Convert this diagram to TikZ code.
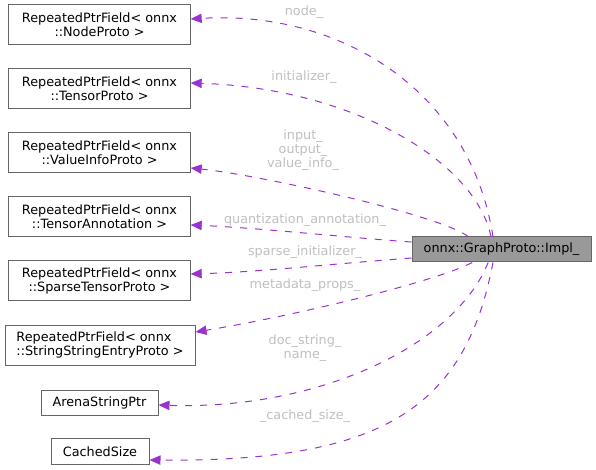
\documentclass[tikz,border=0pt]{standalone}
\usepackage{fontspec}
\setmainfont{DejaVu Sans}
\usepackage{tikz}
\usetikzlibrary{arrows.meta}
\definecolor{edgepurple}{HTML}{9A32CD}
\definecolor{labelgray}{HTML}{BFBFBF}
\definecolor{boxgray}{HTML}{666666}
\definecolor{implgray}{HTML}{999999}

\begin{document}
\begin{tikzpicture}[
        x=0.75pt, y=-0.75pt,
        font=\fontsize{9.6}{10.5}\selectfont,
        box/.style={draw=boxgray, line width=0.75pt, fill=white, align=center, inner sep=0pt, minimum width=136pt, minimum height=30pt},
        smallbox/.style={box, minimum height=18.75pt},
        implbox/.style={box, fill=implgray, minimum width=134.25pt, minimum height=18.75pt},
        lbl/.style={text=labelgray, align=center, inner sep=0pt},
        edge/.style={-{Triangle[length=8.25pt,width=7pt]}, draw=edgepurple, line width=0.75pt, dash pattern=on 5.25pt off 6pt}
    ]
        \useasboundingbox (0,0) rectangle (596,470);
        % target classes on the left
        \node[box] (nodeproto) at (99.5,25) {RepeatedPtrField< onnx\\::NodeProto >};
        \node[box] (tensorproto) at (99.5,89) {RepeatedPtrField< onnx\\::TensorProto >};
        \node[box] (valueinfo) at (99.5,153) {RepeatedPtrField< onnx\\::ValueInfoProto >};
        \node[box] (tensorannot) at (99.5,217) {RepeatedPtrField< onnx\\::TensorAnnotation >};
        \node[box] (sparsetensor) at (99.5,281) {RepeatedPtrField< onnx\\::SparseTensorProto >};
        \node[box, align=left, minimum width=142.5pt] (stringentry) at (100,345) {RepeatedPtrField< onnx\\::StringStringEntryProto >};
        \node[smallbox, minimum width=87.75pt] (arenastr) at (99.5,402.5) {ArenaStringPtr};
        \node[smallbox, minimum width=73.5pt, minimum height=19.5pt] (cachedsize) at (100,451.5) {CachedSize};
        \node[implbox] (impl) at (501.5,249.5) {onnx::GraphProto::Impl\_};
        % member names
        \node[lbl] (lblnode) at (304,12) {node\_};
        \node[lbl] (lblinit) at (304,77) {initializer\_};
        \node[lbl] (lblvalue) at (303,150) {input\_\\output\_\\value\_info\_};
        \node[lbl] (lblquant) at (305,220) {quantization\_annotation\_};
        \node[lbl] (lblsparse) at (305,252) {sparse\_initializer\_};
        \node[lbl] (lblmeta) at (305,285) {metadata\_props\_};
        \node[lbl] (lbldoc) at (305,348) {doc\_string\_\\name\_};
        \node[lbl] (lblcached) at (305,416) {\_cached\_size\_};
        % collaboration edges
        \draw[edge] ([xshift=-6.4pt]impl.north) .. controls (470,90) and (340,10) .. ([yshift=4.5pt]nodeproto.east);
        \draw[edge] ([xshift=-7.9pt]impl.north) .. controls (475,160) and (350,88) .. ([yshift=4.5pt]tensorproto.east);
        \draw[edge] ([xshift=-25pt]impl.north) .. controls (440,215) and (260,175) .. ([yshift=-11.25pt]valueinfo.east);
        \draw[edge] ([yshift=5.6pt]impl.west) .. controls (330,236) and (260,228) .. ([yshift=-6pt]tensorannot.east);
        \draw[edge] ([yshift=-6.4pt]impl.west) .. controls (330,264) and (260,272) .. ([yshift=5.25pt]sparsetensor.east);
        \draw[edge] ([xshift=-22pt]impl.south) .. controls (440,280) and (300,315) .. ([yshift=9.75pt]stringentry.east);
        \draw[edge] ([xshift=-10pt]impl.south) .. controls (455,345) and (320,410) .. ([yshift=-1.9pt]arenastr.east);
        \draw[edge] ([xshift=-6.4pt]impl.south) .. controls (465,410) and (380,462) .. ([yshift=-6.4pt]cachedsize.east);
    \end{tikzpicture}
\end{document}
